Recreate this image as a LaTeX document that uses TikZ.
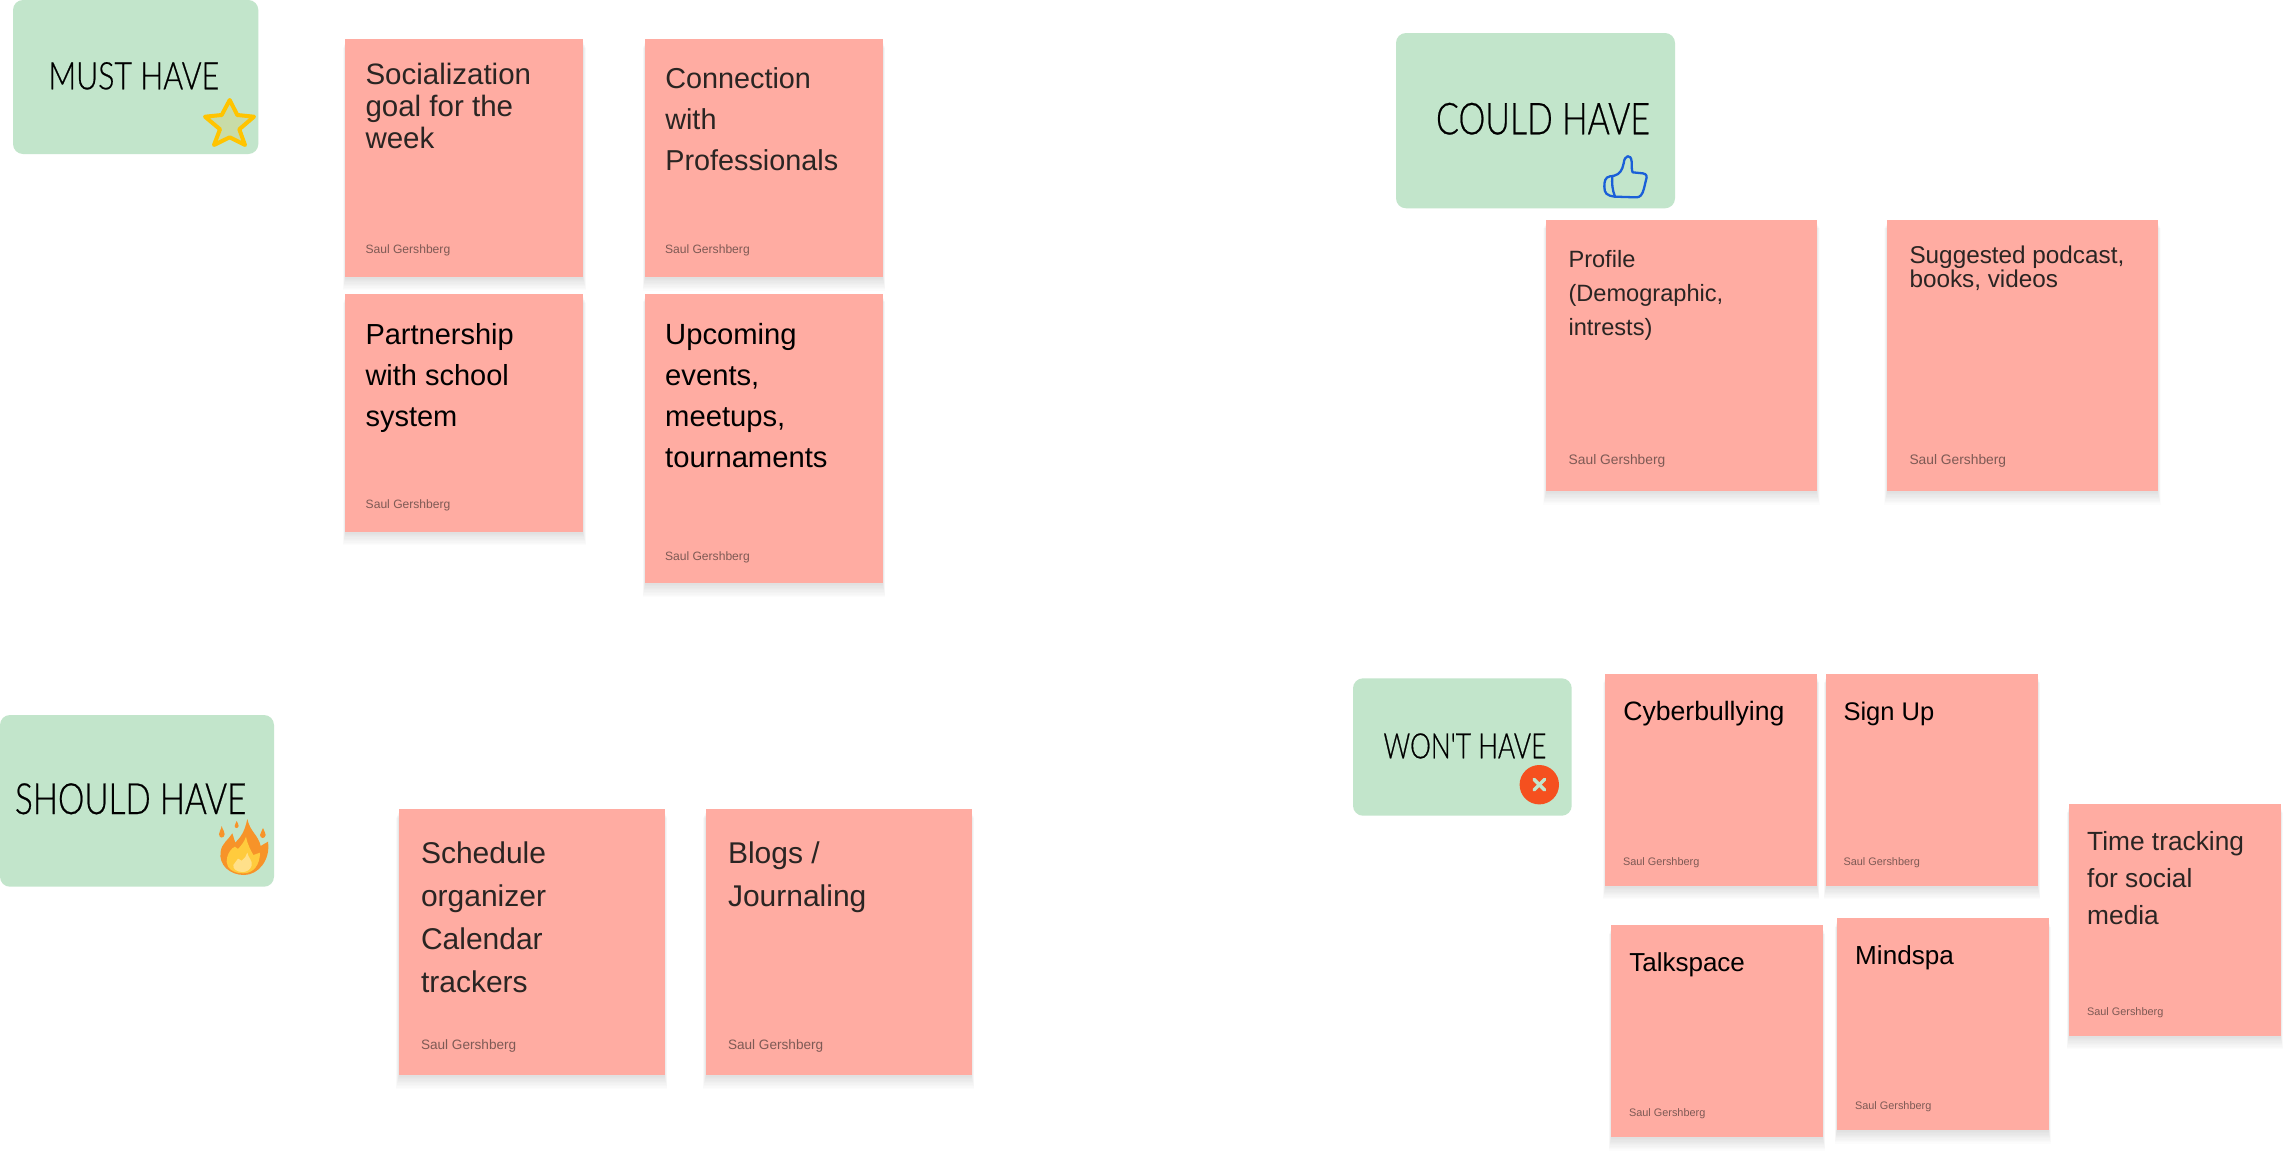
\documentclass[tikz,border=0pt]{standalone}
\usepackage{fontspec}
\setmainfont{Liberation Sans}
\newfontfamily\titlemust[FakeStretch=0.8,FakeBold=0.5]{Lato Light}
\newfontfamily\titlecould[FakeStretch=0.77,FakeBold=0.5]{Lato Light}
\newfontfamily\titleshould[FakeStretch=0.775,FakeBold=0.5]{Lato Light}
\newfontfamily\titlewont[FakeStretch=0.75,FakeBold=0.5]{Lato Light}
\usetikzlibrary{shadows}
\definecolor{notepink}{HTML}{FFACA2}
\definecolor{boxgreen}{HTML}{C2E5CB}
\definecolor{inkdark}{HTML}{2A2523}
\definecolor{authorink}{HTML}{7E5A55}
\definecolor{starline}{HTML}{FFC400}
\definecolor{starfill}{HTML}{C8DCA8}
\definecolor{thumbline}{HTML}{1A5FD8}
\definecolor{crossred}{HTML}{F5501F}
\definecolor{fireout}{HTML}{F79329}
\definecolor{firemid}{HTML}{FFCB3D}
\definecolor{firein}{HTML}{FFE08A}
\tikzset{
  x=1pt,y=-1pt,
  softshade/.style 2 args={general shadow={shadow xshift=0pt,shadow yshift=#1,shadow scale=#2,opacity=.012,fill=black}},
  sticky/.style={anchor=north west,inner sep=0pt,outer sep=0pt,fill=notepink,
    softshade={-11pt}{1.02},softshade={-10pt}{1.018},softshade={-9pt}{1.015},softshade={-8pt}{1.012},
    softshade={-7pt}{1.01},softshade={-6pt}{1.008},softshade={-5pt}{1.005},softshade={-4pt}{1.003},
    softshade={-3pt}{1},softshade={-2pt}{1}},
  greenbox/.style={anchor=north west,inner sep=0pt,outer sep=0pt,fill=boxgreen,rounded corners=10pt},
  plain/.style={anchor=base west,inner sep=0pt,outer sep=0pt},
}
\newcommand\notebox[5]{\node[sticky,minimum width=#4pt,minimum height=#5pt] (#1) at (#2,#3) {};}
\newcommand\notetext[7]{\node[plain,text=#6] (#1) at (#2,#3) {\parbox[t]{260pt}{\fontsize{#4pt}{#5pt}\selectfont #7}};}
\newcommand\noteauthor[4]{\node[plain,text=authorink,font=\fontsize{#4pt}{#4pt}\selectfont] (#1) at (#2,#3) {Saul Gershberg};}
\newcommand\titletext[5]{\node[plain,font=\fontsize{#4pt}{#4pt}\selectfont] (#1) at (#2,#3) {#5};}
\begin{document}
\begin{tikzpicture}
\fill[white] (0,0) rectangle (2291,1154);
\useasboundingbox (0,0) rectangle (2291,1154);

% green headers
\node[greenbox,minimum width=245.3pt,minimum height=154pt] (must) at (13,0) {};
\node[greenbox,minimum width=279pt,minimum height=175.3pt] (could) at (1396,33) {};
\node[greenbox,minimum width=274pt,minimum height=171.7pt] (should) at (0,715) {};
\node[greenbox,minimum width=218.7pt,minimum height=137.4pt] (wont) at (1353,678.3) {};
\titletext{musttext}{48.5}{89.3}{38}{\titlemust\fontsize{38pt}{38pt}\selectfont MUST HAVE}
\titletext{couldtext}{1436}{134.3}{44}{\titlecould\fontsize{44pt}{44pt}\selectfont COULD HAVE}
\titletext{shouldtext}{15}{814}{43}{\titleshould\fontsize{43pt}{43pt}\selectfont SHOULD HAVE}
\titletext{wonttext}{1383.5}{758.3}{35}{\titlewont\fontsize{35pt}{35pt}\selectfont WON'T HAVE}

% star
\draw[starline,fill=starfill,line width=4pt,line join=round]
  (229.7,100) -- (237.3,115) -- (254,116.7) -- (239.3,129.3) -- (245,145)
  -- (229.7,137.3) -- (214,145) -- (220,129.3) -- (205,116.7) -- (221.7,115) -- cycle;

% thumb
\begin{scope}[shift={(1595,145)},scale=1/3,thumbline,line width=2.3pt,line cap=round,line join=round]
  \draw (55,93) .. controls (75,88) and (82,75) .. (86,55) .. controls (88,30) and (108,25) .. (110,50)
    .. controls (110,65) and (110,75) .. (113,82) -- (143,85) .. controls (155,86) and (157,95) .. (153,105)
    -- (147,130) .. controls (142,150) and (135,158) .. (122,157) -- (60,155);
  \draw (55,93) -- (45,94) .. controls (30,96) and (28,110) .. (28,125) .. controls (28,145) and (35,152) .. (60,155);
  \draw (52,93) .. controls (50,115) and (52,135) .. (60,155);
\end{scope}

% fire
\begin{scope}[shift={(0,700)},scale=1/3]
  \fill[fireout] (742,357) .. controls (750,395) and (775,405) .. (782,438) -- (804,425)
    .. controls (812,480) and (775,525) .. (732,525) .. controls (690,525) and (655,495) .. (662,455)
    .. controls (665,430) and (685,420) .. (697,400) -- (706,428) -- (720,412)
    .. controls (733,395) and (738,375) .. (742,357) -- cycle;
  \fill[fireout] (665,378) .. controls (668,390) and (675,395) .. (674,403) .. controls (672,416) and (658,416) .. (657,403) .. controls (657,395) and (663,390) .. (665,378) -- cycle;
  \fill[fireout] (710,363) .. controls (712,370) and (717,373) .. (716,378) .. controls (714,386) and (705,386) .. (704,378) .. controls (704,373) and (708,370) .. (710,363) -- cycle;
  \fill[fireout] (789,384) .. controls (791,394) and (798,398) .. (797,405) .. controls (795,417) and (781,417) .. (780,405) .. controls (780,398) and (787,394) .. (789,384) -- cycle;
  \fill[firemid] (738,410) .. controls (743,435) and (752,450) .. (760,465) -- (780,458)
    .. controls (780,495) and (760,520) .. (730,520) .. controls (700,520) and (680,505) .. (680,485)
    .. controls (680,465) and (690,452) .. (697,445) -- (705,440) -- (714,447)
    .. controls (725,435) and (733,425) .. (738,410) -- cycle;
  \fill[firein] (742,458) .. controls (745,475) and (758,480) .. (755,497) .. controls (750,510) and (740,516) .. (728,516)
    .. controls (712,516) and (698,508) .. (700,495) -- (714,476) -- (725,482)
    .. controls (733,475) and (740,468) .. (742,458) -- cycle;
\end{scope}

% cross
\node[circle,fill=crossred,minimum size=39.4pt,inner sep=0pt] (crossdisc) at (1539.3,784.7) {};
\draw[boxgreen,line width=3.4pt,line cap=round] (1534,779.4) -- (1544.6,790);
\draw[boxgreen,line width=3.4pt,line cap=round] (1544.6,779.4) -- (1534,790);

% must have notes
\notebox{n1}{345.4}{38.7}{238}{238}
\notetext{n1t}{365.5}{84.6}{29.5}{32}{inkdark}{Socialization\\goal for the\\week}
\noteauthor{n1a}{365.5}{253.3}{12.1}
\notebox{n2}{645}{39}{238}{238}
\notetext{n2t}{665.3}{88.6}{28.8}{41}{inkdark}{Connection\\with\\Professionals}
\noteauthor{n2a}{665}{253.3}{12.1}
\notebox{n3}{345.4}{293.7}{238}{238}
\notetext{n3t}{365.5}{344}{29}{41}{black}{Partnership\\with school\\system}
\noteauthor{n3a}{365.7}{508.3}{12.1}
\notebox{n4}{645}{293.7}{238}{289.5}
\notetext{n4t}{665.2}{344}{29.2}{41}{black}{Upcoming\\events,\\meetups,\\tournaments}
\noteauthor{n4a}{665}{560}{12.1}

% could have notes
\notebox{n5}{1546}{219.8}{271}{271}
\notetext{n5t}{1568.5}{267}{23.6}{34}{inkdark}{Profile\\(Demographic,\\intrests)}
\noteauthor{n5a}{1568.7}{464.7}{13.8}
\notebox{n6}{1887}{219.8}{271}{271}
\notetext{n6t}{1909.5}{263.3}{24.3}{24}{inkdark}{Suggested podcast,\\books, videos}
\noteauthor{n6a}{1909.5}{464.7}{13.8}

% should have notes
\notebox{n7}{398.7}{809}{266}{266}
\notetext{n7t}{421}{863.3}{30}{43}{inkdark}{Schedule\\organizer\\Calendar\\trackers}
\noteauthor{n7a}{421}{1049.3}{13.6}
\notebox{n8}{705.7}{809}{266}{266}
\notetext{n8t}{728}{863.3}{30}{43}{inkdark}{Blogs /\\Journaling}
\noteauthor{n8a}{728}{1049.3}{13.6}

% won't have notes
\notebox{n9}{1605.2}{674}{212}{212}
\notetext{n9t}{1623.3}{720}{26.6}{36}{black}{Cyberbullying}
\noteauthor{n9a}{1623}{865}{10.9}
\notebox{n10}{1826}{674}{212}{212}
\notetext{n10t}{1843.5}{720}{25.5}{36}{black}{Sign Up}
\noteauthor{n10a}{1843.5}{865}{10.9}
\notebox{n11}{2068.8}{804.3}{212}{231.4}
\notetext{n11t}{2087.2}{850}{26.3}{37}{inkdark}{Time tracking\\for social\\media}
\noteauthor{n11a}{2087}{1015}{10.9}
\notebox{n12}{1611}{925.3}{212}{212}
\notetext{n12t}{1629.3}{971}{26}{36}{black}{Talkspace}
\noteauthor{n12a}{1629}{1116}{10.9}
\notebox{n13}{1836.8}{918.3}{212}{212}
\notetext{n13t}{1855.2}{964}{26.1}{36}{black}{Mindspa}
\noteauthor{n13a}{1855}{1109.3}{10.9}
\end{tikzpicture}
\end{document}
